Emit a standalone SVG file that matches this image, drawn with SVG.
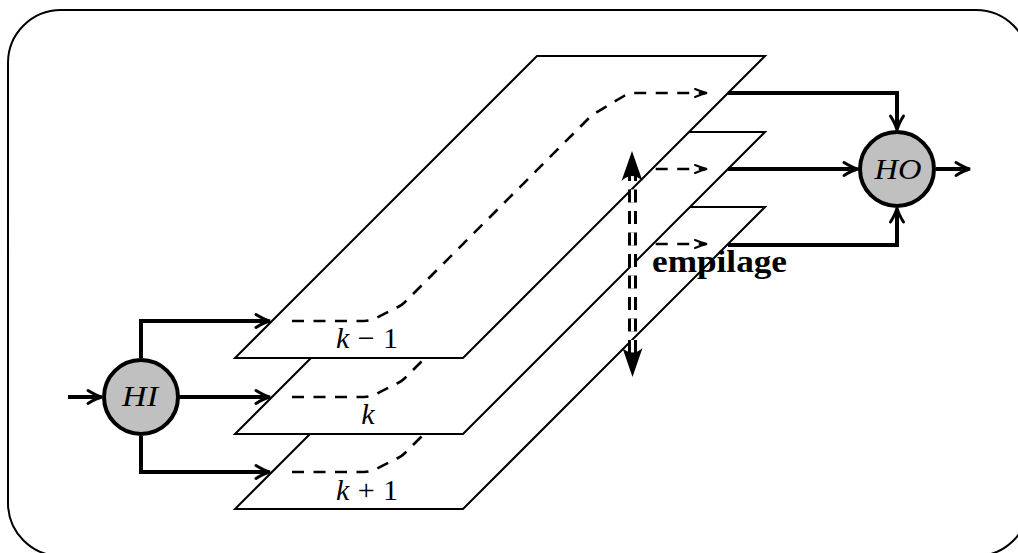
<svg xmlns="http://www.w3.org/2000/svg" width="1018" height="553" viewBox="0 0 1018 553">
<style>
.frame{fill:none;stroke:#000;stroke-width:2}
.layer{fill:#fff;stroke:#000;stroke-width:2;stroke-linejoin:miter}
.flow{fill:none;stroke:#000;stroke-width:2.6;stroke-dasharray:12 9.5}
.conn{fill:none;stroke:#000;stroke-width:4}
.node{fill:#c0c0c0;stroke:#000;stroke-width:4}
</style>
<defs>
<marker id="ah" markerUnits="userSpaceOnUse" markerWidth="24" markerHeight="20" viewBox="-16 -10 24 20" refX="0" refY="0" orient="auto" overflow="visible">
<path d="M-11,-6.5 Q-3,-1.5 3,0 Q-3,1.5 -11,6.5" fill="none" stroke="#000" stroke-width="3" stroke-linecap="round"/>
</marker>
<marker id="ahs" markerUnits="userSpaceOnUse" markerWidth="20" markerHeight="16" viewBox="-14 -8 20 16" refX="0" refY="0" orient="auto" overflow="visible">
<path d="M-10,-4 Q-3,-1 2,0 Q-3,1 -10,4" fill="none" stroke="#000" stroke-width="2" stroke-linecap="round"/>
</marker>
<path id="flowpath" d="M292,321 H364 Q370,321 376,318 L398,307 Q402,305 405,302 L590,117 Q593,114 597,112 L624,96 Q629,93 635,93 H705"/>
<polygon id="plane" points="235,358 463,358 765,56 537,56"/>
</defs>

<rect class="frame" x="8" y="10" width="1021" height="546" rx="53" ry="53"/>

<g id="layer-k-plus-1" transform="translate(0,151)">
<use href="#plane" class="layer"/>
<use href="#flowpath" class="flow" marker-end="url(#ahs)"/>
<text x="367" y="349" text-anchor="middle" font-family="'Liberation Serif', serif" font-size="30" textLength="62" lengthAdjust="spacing"><tspan font-style="italic">k</tspan> + 1</text>
</g>
<g id="layer-k" transform="translate(0,76)">
<use href="#plane" class="layer"/>
<use href="#flowpath" class="flow" marker-end="url(#ahs)"/>
<text x="368" y="348" text-anchor="middle" font-family="'Liberation Serif', serif" font-size="30" font-style="italic">k</text>
</g>
<g id="layer-k-minus-1">
<use href="#plane" class="layer"/>
<use href="#flowpath" class="flow" marker-end="url(#ahs)"/>
<text x="367" y="348" text-anchor="middle" font-family="'Liberation Serif', serif" font-size="30" textLength="62" lengthAdjust="spacing"><tspan font-style="italic">k</tspan> − 1</text>
</g>

<g id="connectors">
<path class="conn" d="M68,397 H99" marker-end="url(#ah)"/>
<path class="conn" d="M141,358 V321 H267" marker-end="url(#ah)"/>
<path class="conn" d="M179,397 H267" marker-end="url(#ah)"/>
<path class="conn" d="M141,436 V472 H267" marker-end="url(#ah)"/>
<path class="conn" d="M728,93 H897 V127" marker-end="url(#ah)"/>
<path class="conn" d="M728,169 H855" marker-end="url(#ah)"/>
<path class="conn" d="M728,245 H897 V211" marker-end="url(#ah)"/>
<path class="conn" d="M936,169 H967" marker-end="url(#ah)"/>
</g>

<g id="empilage">
<path d="M632.5,168 V360" fill="none" stroke="#000" stroke-width="9" stroke-dasharray="13 8.5"/>
<path d="M632.5,168 V360" fill="none" stroke="#fff" stroke-width="3" stroke-dasharray="13 8.5"/>
<path d="M632,151 L642.5,181 Q632,171 621.5,181 Z" fill="#000"/>
<path d="M632.5,377 L642.5,348 Q632.5,357 622.5,348 Z" fill="#000"/>
<text x="652" y="272" font-family="'Liberation Serif', serif" font-weight="bold" font-size="31" textLength="135" lengthAdjust="spacingAndGlyphs">empilage</text>
</g>

<g id="HI">
<circle class="node" cx="141" cy="397" r="37"/>
<text x="140" y="406" text-anchor="middle" font-family="'Liberation Serif', serif" font-style="italic" font-size="29" textLength="36" lengthAdjust="spacingAndGlyphs">HI</text>
</g>
<g id="HO">
<circle class="node" cx="897" cy="169" r="37"/>
<text x="898" y="179" text-anchor="middle" font-family="'Liberation Serif', serif" font-style="italic" font-size="29" textLength="47" lengthAdjust="spacingAndGlyphs">HO</text>
</g>
</svg>
